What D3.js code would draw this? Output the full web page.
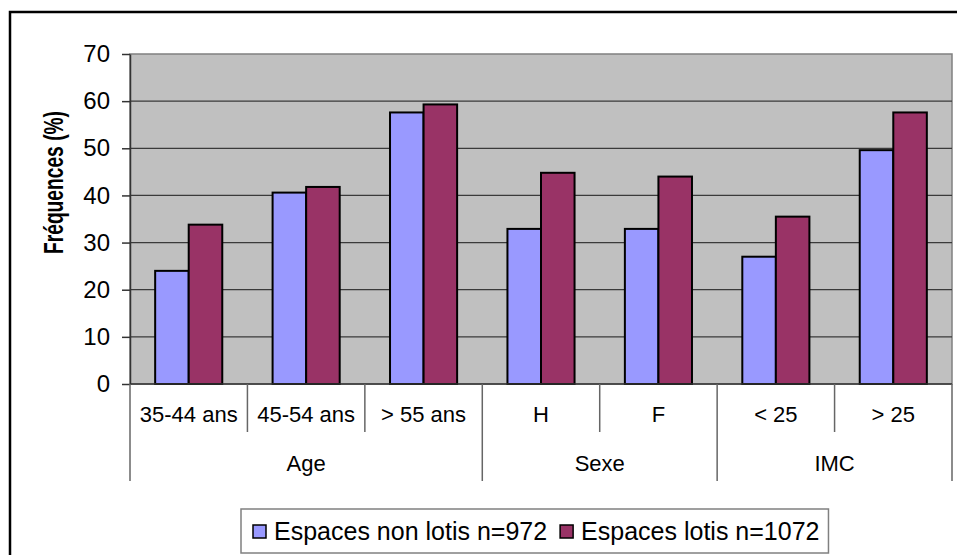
<!DOCTYPE html>
<html>
<head>
<meta charset="utf-8">
<script src="https://cdn.jsdelivr.net/npm/d3@7"></script>
<style>
  html, body { margin: 0; padding: 0; background: #fff; }
  svg { display: block; font-family: "Liberation Sans", Arial, sans-serif; }
</style>
</head>
<body>
<svg id="chart" width="957" height="555"></svg>
<script>
// ---- data ----
const subCategories = ["35-44 ans", "45-54 ans", "> 55 ans", "H", "F", "< 25", "> 25"];
const groupLabels = ["Age", "Sexe", "IMC"];
const groupSizes = [3, 2, 2];
const seriesNames = ["Espaces non lotis n=972", "Espaces lotis n=1072"];
const nonLotis = [24.0, 40.6, 57.6, 32.9, 32.9, 27.0, 49.6];
const lotis = [33.8, 41.8, 59.3, 44.8, 44.0, 35.5, 57.6];
const yTicks = [0, 10, 20, 30, 40, 50, 60, 70];
const colors = ["#9999FF", "#993366"];

// ---- layout ----
const svg = d3.select("#chart");
const plot = { left: 130, right: 952, top: 54, bottom: 384 };

// outer border (extends past canvas on right and bottom)
svg.append("rect").attr("x", 10).attr("y", 12).attr("width", 960).attr("height", 600)
  .attr("fill", "none").attr("stroke", "#000").attr("stroke-width", 2.5);

const x0 = d3.scaleBand().domain(subCategories).range([plot.left, plot.right]).paddingInner(0).paddingOuter(0);
const x1 = d3.scaleBand().domain(seriesNames).range([0, x0.bandwidth()]).paddingInner(0).paddingOuter(0.75);
const y = d3.scaleLinear().domain([0, 70]).range([plot.bottom, plot.top]);

// plot background
svg.append("rect").attr("x", plot.left).attr("y", plot.top)
  .attr("width", plot.right - plot.left).attr("height", plot.bottom - plot.top)
  .attr("fill", "#C0C0C0").attr("stroke", "#808080").attr("stroke-width", 1.5);

// gridlines
svg.append("g").selectAll("line").data(yTicks.filter(t => t > 0 && t < 70)).join("line")
  .attr("x1", plot.left).attr("x2", plot.right)
  .attr("y1", d => y(d)).attr("y2", d => y(d))
  .attr("stroke", "#3a3a3a").attr("stroke-width", 1.3);

// y axis
const yAxis = d3.axisLeft(y).tickValues(yTicks).tickSize(8).tickPadding(12).tickSizeOuter(0);
const yg = svg.append("g").attr("transform", `translate(${plot.left},0)`).call(yAxis);
yg.select(".domain").attr("stroke", "#333").attr("stroke-width", 1.5);
yg.selectAll(".tick line").attr("stroke", "#333").attr("stroke-width", 1.5);
yg.selectAll(".tick text").attr("font-size", 24).attr("fill", "#000")
  .attr("font-family", "Liberation Sans, Arial, sans-serif");

// bars
const data = subCategories.map((c, i) => ({ cat: c, vals: [nonLotis[i], lotis[i]] }));
const gBars = svg.append("g");
data.forEach(d => {
  d.vals.forEach((v, j) => {
    gBars.append("rect")
      .attr("x", x0(d.cat) + x1(seriesNames[j]))
      .attr("y", y(v))
      .attr("width", x1.bandwidth())
      .attr("height", y(0) - y(v))
      .attr("fill", colors[j]).attr("stroke", "#000").attr("stroke-width", 2);
  });
});

// category axis line
svg.append("line").attr("x1", plot.left).attr("x2", plot.right)
  .attr("y1", plot.bottom).attr("y2", plot.bottom)
  .attr("stroke", "#333").attr("stroke-width", 1.5);

// multi-level category axis
const ax = svg.append("g");
const subRowBottom = 432, groupRowBottom = 481;
let idx = 0;
const groupStarts = [0];
groupSizes.forEach(s => { idx += s; groupStarts.push(idx); });
for (let i = 0; i <= subCategories.length; i++) {
  const xb = i < subCategories.length ? x0(subCategories[i]) : plot.right;
  const isGroup = groupStarts.includes(i);
  ax.append("line").attr("x1", xb).attr("x2", xb)
    .attr("y1", plot.bottom).attr("y2", isGroup ? groupRowBottom : subRowBottom)
    .attr("stroke", "#666").attr("stroke-width", 1.5);
}
ax.selectAll("text.sub").data(subCategories).join("text").attr("class", "sub")
  .attr("x", d => x0(d) + x0.bandwidth() / 2).attr("y", 422)
  .attr("text-anchor", "middle").attr("font-size", 22).text(d => d);
groupLabels.forEach((g, i) => {
  const a = x0(subCategories[groupStarts[i]]);
  const b = groupStarts[i + 1] < subCategories.length ? x0(subCategories[groupStarts[i + 1]]) : plot.right;
  ax.append("text").attr("x", (a + b) / 2).attr("y", 471)
    .attr("text-anchor", "middle").attr("font-size", 22).text(g);
});

// y axis title
svg.append("text").attr("transform", "translate(63,254) rotate(-90)")
  .attr("text-anchor", "start").attr("font-size", 27).attr("font-weight", "bold")
  .attr("textLength", 143).attr("lengthAdjust", "spacingAndGlyphs")
  .text("Fréquences (%)");

// legend
const lg = svg.append("g");
const lgBox = lg.append("rect").attr("fill", "#fff").attr("stroke", "#808080").attr("stroke-width", 1.5);
let cx = 253;
const lgY = 531;
seriesNames.forEach((s, j) => {
  lg.append("rect").attr("x", cx).attr("y", lgY - 6).attr("width", 13).attr("height", 13)
    .attr("fill", colors[j]).attr("stroke", "#000").attr("stroke-width", 1.5);
  const t = lg.append("text").attr("x", cx + 21).attr("y", lgY + 9).attr("font-size", 25).text(s);
  cx += 21 + t.node().getComputedTextLength() + 13;
});
lgBox.attr("x", 241).attr("y", 509).attr("width", cx - 241 - 4).attr("height", 44);
</script>
</body>
</html>
